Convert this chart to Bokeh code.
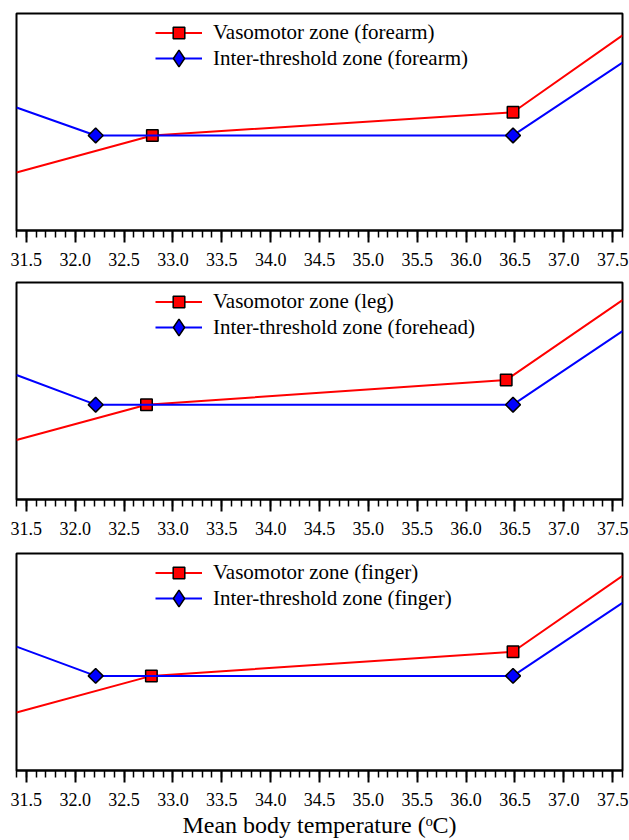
import numpy as np
from bokeh.plotting import figure
from bokeh.models import (ColumnDataSource, CDSView, IndexFilter, FixedTicker,
                          NumeralTickFormatter, Legend, LegendItem, Range1d)
from bokeh.layouts import column
from bokeh.embed import file_html
from bokeh.resources import INLINE

# ---------------- data ----------------
tick_values = [31.5, 32.0, 32.5, 33.0, 33.5, 34.0, 34.5, 35.0, 35.5, 36.0, 36.5, 37.0, 37.5]
minor_tick_values = [round(31.4 + 0.1 * i, 1) for i in range(63)]

x_label = "Mean body temperature (ᵒC)"

# Panel 1 (forearm / forearm)
vaso_forearm_x = [31.4, 32.79, 36.48, 37.6]
vaso_forearm_y = [26.7, 43.8, 54.5, 89.9]
inter_forearm_x = [31.4, 32.21, 36.48, 37.6]
inter_forearm_y = [56.7, 43.8, 43.8, 77.4]

# Panel 2 (leg / forehead)
vaso_leg_x = [31.4, 32.73, 36.41, 37.6]
vaso_leg_y = [27.4, 43.7, 55.1, 91.9]
inter_forehead_x = [31.4, 32.21, 36.48, 37.6]
inter_forehead_y = [57.4, 43.7, 43.7, 77.6]

# Panel 3 (finger / finger)
vaso_finger_x = [31.4, 32.78, 36.48, 37.6]
vaso_finger_y = [26.7, 43.6, 54.7, 89.7]
inter_finger_x = [31.4, 32.21, 36.48, 37.6]
inter_finger_y = [57.1, 43.6, 43.6, 77.3]

marker_index = [1, 2]

panels = [
    ("Vasomotor zone (forearm)", vaso_forearm_x, vaso_forearm_y,
     "Inter-threshold zone (forearm)", inter_forearm_x, inter_forearm_y),
    ("Vasomotor zone (leg)", vaso_leg_x, vaso_leg_y,
     "Inter-threshold zone (forehead)", inter_forehead_x, inter_forehead_y),
    ("Vasomotor zone (finger)", vaso_finger_x, vaso_finger_y,
     "Inter-threshold zone (finger)", inter_finger_x, inter_finger_y),
]

SERIF = "Liberation Serif"
heights = [269, 271, 300]
bottoms = [39, 41, 69]


def make_legend(item, gh, y):
    return Legend(items=[item], location=(139, y), padding=0, margin=0, spacing=0,
                  glyph_width=47, glyph_height=gh, label_height=gh,
                  label_standoff=11, label_text_font=SERIF,
                  label_text_font_size="21px", label_text_color="black",
                  border_line_alpha=0, background_fill_alpha=0)


figs = []
for i, (lab_r, xr, yr, lab_b, xb, yb) in enumerate(panels):
    p = figure(width=629, height=heights[i], x_range=Range1d(31.4, 37.6),
               y_range=Range1d(0, 100), output_backend="svg", toolbar_location=None,
               min_border_left=16, min_border_right=7, min_border_top=13,
               min_border_bottom=bottoms[i])
    p.background_fill_color = "white"
    p.border_fill_color = "white"
    p.outline_line_color = "black"
    p.outline_line_width = 2
    p.xgrid.visible = False
    p.ygrid.visible = False
    p.yaxis.visible = False

    ax = p.xaxis[0]
    ax.ticker = FixedTicker(ticks=tick_values, minor_ticks=minor_tick_values)
    ax.formatter = NumeralTickFormatter(format="0.0")
    ax.axis_line_color = "black"
    ax.axis_line_width = 2
    ax.major_tick_line_color = "black"
    ax.major_tick_line_width = 2
    ax.major_tick_in = 0
    ax.major_tick_out = 12
    ax.minor_tick_line_color = "black"
    ax.minor_tick_line_width = 1.5
    ax.minor_tick_in = 0
    ax.minor_tick_out = 7
    ax.major_label_text_font = SERIF
    ax.major_label_text_font_size = "18px"
    ax.major_label_text_color = "black"
    ax.major_label_standoff = 10
    if i == 2:
        ax.axis_label = x_label
        ax.axis_label_text_font = SERIF
        ax.axis_label_text_font_size = "24px"
        ax.axis_label_text_font_style = "normal"
        ax.axis_label_text_color = "black"
        ax.axis_label_standoff = 3

    src_r = ColumnDataSource(dict(x=xr, y=yr))
    src_b = ColumnDataSource(dict(x=xb, y=yb))
    lr = p.line("x", "y", source=src_r, line_color="#ff0000", line_width=2)
    sr = p.scatter("x", "y", source=src_r, view=CDSView(filter=IndexFilter(marker_index)),
                   marker="square", size=11.5, fill_color="#ff0000",
                   line_color="black", line_width=1.5)
    lb = p.line("x", "y", source=src_b, line_color="#0000ff", line_width=2)
    sb = p.scatter("x", "y", source=src_b, view=CDSView(filter=IndexFilter(marker_index)),
                   marker="square", angle=np.pi / 4, size=10.5, fill_color="#0000ff",
                   line_color="black", line_width=1.5)
    # legend key for the blue series: a diamond (legend keys are drawn unrotated),
    # its source holds no visible point
    key_b = p.scatter("x", "y", source=ColumnDataSource(dict(x=[np.nan], y=[np.nan])),
                      marker="diamond", fill_color="#0000ff",
                      line_color="black", line_width=1.5)

    p.add_layout(make_legend(LegendItem(label=lab_r, renderers=[lr, sr]), 29, 183))
    p.add_layout(make_legend(LegendItem(label=lab_b, renderers=[lb, key_b]), 42, 151))
    figs.append(p)

layout = column(*figs, spacing=0)
open("out.html", "w").write(file_html(layout, INLINE))
